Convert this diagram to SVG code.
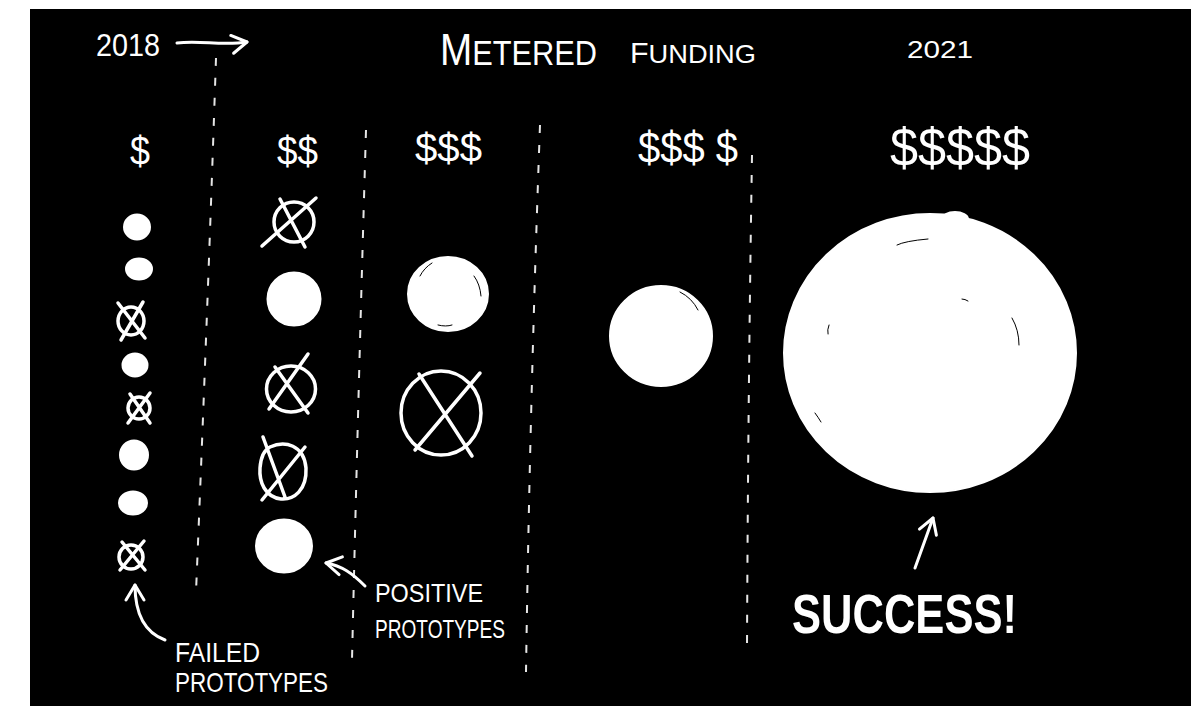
<svg xmlns="http://www.w3.org/2000/svg" width="1191" height="706" viewBox="0 0 1191 706">
<style>
.t{font-family:"Liberation Sans","DejaVu Sans",sans-serif;fill:#fff;}
.fill{fill:#fff;stroke:#fff;stroke-width:2;}
.fail{fill:none;stroke:#fff;stroke-width:3.5;stroke-linecap:round;}
.div{fill:none;stroke:#e6e6e6;stroke-width:2;stroke-dasharray:8 12;}
.arr{fill:none;stroke:#fff;stroke-width:3;stroke-linecap:round;stroke-linejoin:round;}
.tex{fill:none;stroke:#000;stroke-width:1;stroke-linecap:round;}
</style>
<defs>
<marker id="head" viewBox="0 0 24 24" refX="21" refY="12" markerWidth="24" markerHeight="24" markerUnits="userSpaceOnUse" orient="auto">
<path d="M6,3 L21,12 L6,21" fill="none" stroke="#fff" stroke-width="3" stroke-linecap="round" stroke-linejoin="round"/>
</marker>
</defs>
<rect x="0" y="0" width="1191" height="706" fill="#fff"/>
<rect x="30" y="9" width="1161" height="697" fill="#000"/>

<g id="dividers">
<path class="div" d="M216,58 Q208,300 196,592"/>
<path class="div" d="M366,130 Q358,400 352,660"/>
<path class="div" d="M540,125 Q530,400 526,672"/>
<path class="div" d="M752,155 Q748,400 747,650"/>
</g>

<g id="titles">
<text class="t" x="96" y="56" font-size="31" textLength="64" lengthAdjust="spacingAndGlyphs">2018</text>
<text class="t" x="440" y="65" textLength="157" lengthAdjust="spacingAndGlyphs"><tspan font-size="44">M</tspan><tspan font-size="35">ETERED</tspan></text>
<text class="t" x="630" y="63" textLength="126" lengthAdjust="spacingAndGlyphs"><tspan font-size="29">F</tspan><tspan font-size="26">UNDING</tspan></text>
<text class="t" x="907" y="58" font-size="24" textLength="66" lengthAdjust="spacingAndGlyphs">2021</text>
</g>

<g id="funding-levels">
<text class="t" x="130" y="165" font-size="41" textLength="20" lengthAdjust="spacingAndGlyphs">$</text>
<text class="t" x="277" y="165" font-size="41" textLength="41" lengthAdjust="spacingAndGlyphs">$$</text>
<text class="t" x="415" y="162" font-size="41" textLength="67" lengthAdjust="spacingAndGlyphs">$$$</text>
<text class="t" x="638" y="163" font-size="44" textLength="100" lengthAdjust="spacingAndGlyphs">$$$ $</text>
<text class="t" x="890" y="166" font-size="54" textLength="140" lengthAdjust="spacingAndGlyphs">$$$$$</text>
</g>

<g id="col1-p1"><ellipse class="fill" cx="137" cy="227" rx="13" ry="12.5"/></g>
<g id="col1-p2"><ellipse class="fill" cx="139" cy="269" rx="13" ry="10.5"/></g>
<g id="col1-p3"><ellipse class="fail" cx="131" cy="321" rx="13" ry="14"/><path class="fail" d="M121,340 L143,302 M118,303 L145,338"/></g>
<g id="col1-p4"><ellipse class="fill" cx="135" cy="365" rx="12.5" ry="11.5"/></g>
<g id="col1-p5"><ellipse class="fail" cx="139" cy="408" rx="11" ry="11"/><path class="fail" d="M128,423 L150,393 M130,394 L150,423"/></g>
<g id="col1-p6"><ellipse class="fill" cx="134" cy="455" rx="14" ry="14.5"/></g>
<g id="col1-p7"><ellipse class="fill" cx="133" cy="503" rx="14" ry="11.5"/></g>
<g id="col1-p8"><ellipse class="fail" cx="131" cy="557" rx="12" ry="12"/><path class="fail" d="M120,570 L144,541 M122,542 L145,570"/></g>

<g id="col2-p1"><ellipse class="fail" cx="294" cy="222" rx="20" ry="20"/><path class="fail" d="M262,246 L316,198 M280,199 L305,247"/></g>
<g id="col2-p2"><ellipse class="fill" cx="294" cy="299" rx="26.5" ry="26.5"/></g>
<g id="col2-p3"><ellipse class="fail" cx="291" cy="389" rx="24.5" ry="23"/><path class="fail" d="M269,409 L308,354 M275,367 L308,413"/></g>
<g id="col2-p4"><path class="fail" d="M270,447 C285,440 304,445 306,468 C307,490 294,500 281,499 C265,497 259,482 260,468 C261,455 266,449 270,447 Z M263,437 L285,497 M262,500 L305,447"/></g>
<g id="col2-p5"><ellipse class="fill" cx="284" cy="546" rx="28" ry="26.5"/></g>

<g id="col3-p1"><ellipse class="fill" cx="448" cy="294" rx="40" ry="37"/><path class="tex" d="M420,276 Q424,268 432,263 M474,276 Q480,284 481,296 M438,325 Q446,327 452,325"/></g>
<g id="col3-p2"><ellipse class="fail" cx="441" cy="413" rx="40" ry="42"/><path class="fail" d="M419,374 L472,456 M480,373 L415,450"/></g>

<g id="col4-p1"><ellipse class="fill" cx="661" cy="336" rx="51" ry="50"/><path class="tex" d="M680,292 Q692,298 698,310"/></g>

<g id="col5-p1"><ellipse class="fill" cx="930" cy="353" rx="146" ry="139"/><ellipse class="fill" cx="955" cy="219" rx="13" ry="7"/><path class="tex" d="M897,245 Q905,241 928,239 M1012,318 Q1019,330 1019,345 M829,325 Q827,330 828,334 M962,299 Q965,299 968,301 M815,413 Q818,417 821,422"/></g>

<g id="labels">
<text class="t" x="175" y="662" font-size="28" textLength="85" lengthAdjust="spacingAndGlyphs">FAILED</text>
<text class="t" x="175" y="692" font-size="28" textLength="153" lengthAdjust="spacingAndGlyphs">PROTOTYPES</text>
<text class="t" x="375" y="602" font-size="26" textLength="108" lengthAdjust="spacingAndGlyphs">POSITIVE</text>
<text class="t" x="375" y="638" font-size="26" textLength="130" lengthAdjust="spacingAndGlyphs">PROTOTYPES</text>
<text class="t" x="792" y="633" font-size="56" font-weight="bold" textLength="225" lengthAdjust="spacingAndGlyphs">SUCCESS!</text>
</g>

<g id="connectors">
<path class="arr" d="M177,43 C200,40 222,46 247,42" marker-end="url(#head)"/>
<path class="arr" d="M165,640 C146,633 135,615 135,585" marker-end="url(#head)"/>
<path class="arr" d="M365,586 C352,573 342,566 326,563" marker-end="url(#head)"/>
<path class="arr" d="M915,568 L933,518" marker-end="url(#head)"/>
</g>
</svg>
